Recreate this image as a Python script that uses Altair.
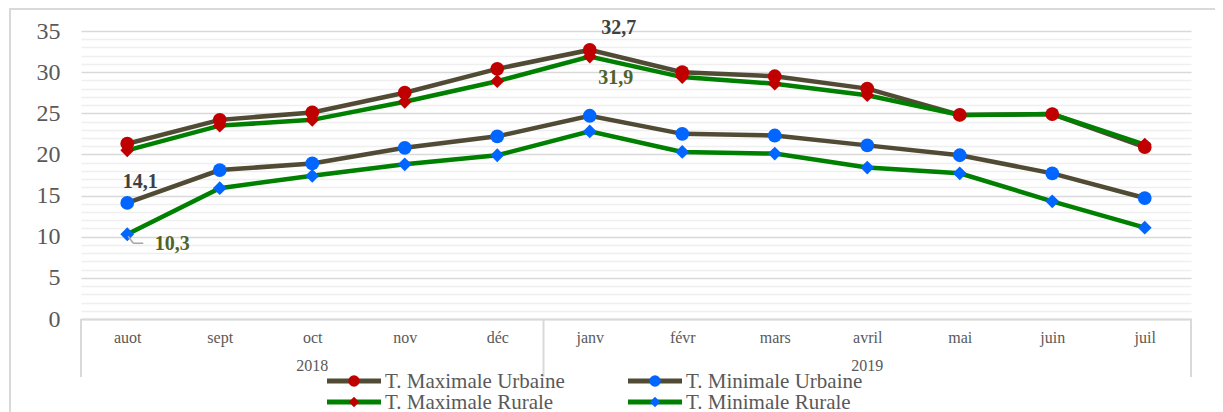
import json
import altair as alt
import pandas as pd

months = ["auot", "sept", "oct", "nov", "déc", "janv", "févr", "mars", "avril", "mai", "juin", "juil"]
years = ["2018"] * 5 + ["2019"] * 7
tmax_urb = [21.3, 24.2, 25.1, 27.5, 30.4, 32.7, 30.0, 29.5, 28.0, 24.8, 24.9, 20.9]
tmin_urb = [14.1, 18.1, 18.9, 20.8, 22.2, 24.7, 22.5, 22.3, 21.1, 19.9, 17.7, 14.7]
tmax_rur = [20.5, 23.5, 24.2, 26.4, 28.9, 31.9, 29.4, 28.6, 27.2, 24.8, 24.9, 21.2]
tmin_rur = [10.3, 15.9, 17.4, 18.8, 19.9, 22.8, 20.3, 20.1, 18.4, 17.7, 14.3, 11.1]

series_names = ["T. Maximale Urbaine", "T. Minimale Urbaine", "T. Maximale Rurale", "T. Minimale Rurale"]
series_values = [tmax_urb, tmin_urb, tmax_rur, tmin_rur]

BROWN = "#514A34"
GREEN = "#008000"
RED = "#C00000"
BLUE = "#0066FF"
line_colors = [BROWN, BROWN, GREEN, GREEN]
marker_colors = [RED, BLUE, RED, BLUE]
marker_shapes = ["circle", "circle", "diamond", "diamond"]
FONT = "Liberation Serif"
GREY_TXT = "#595959"

rows = []
for name, vals in zip(series_names, series_values):
    for i, v in enumerate(vals):
        rows.append({"idx": i, "month": months[i], "year": years[i], "series": name, "value": v})
df = pd.DataFrame(rows)

W, H = 1110, 288
xscale = alt.Scale(domain=[-0.5, len(months) - 0.5], nice=False, zero=False)
yscale = alt.Scale(domain=[0, 35], nice=False)

month_expr = json.dumps(months, ensure_ascii=False) + "[datum.value]"

x_axis = alt.Axis(values=list(range(len(months))), labelExpr=month_expr, grid=False, ticks=False,
                  tickSize=0, domain=True, domainColor="#D9D9D9", domainWidth=2,
                  labelFont=FONT, labelFontSize=16, labelColor=GREY_TXT, labelPadding=18,
                  labelBaseline="middle", title=None)
y_axis = alt.Axis(values=list(range(36)), labelExpr="datum.value % 5 === 0 ? datum.label : ''",
                  grid=True, gridWidth=1.6,
                  gridColor={"condition": {"test": "datum.value % 5 === 0", "value": "#D9D9D9"},
                             "value": "#EFEFEF"},
                  ticks=False, domain=False, labelFont=FONT, labelFontSize=24, labelColor=GREY_TXT,
                  labelPadding=21, title=None)

X = alt.X("idx:Q", scale=xscale, axis=x_axis)
Y = alt.Y("value:Q", scale=yscale, axis=y_axis)

base = alt.Chart(df)
color_scale = alt.Scale(domain=series_names, range=line_colors)
fill_scale = alt.Scale(domain=series_names, range=marker_colors)


def subset(names):
    return base.transform_filter(alt.FieldOneOfPredicate(field="series", oneOf=names))


lines_urb = subset(series_names[:2]).mark_line(strokeWidth=4.5).encode(
    x=X, y=Y, color=alt.Color("series:N", scale=color_scale, legend=None), detail="series:N")
lines_rur = subset(series_names[2:]).mark_line(strokeWidth=4.5).encode(
    x=X, y=Y, color=alt.Color("series:N", scale=color_scale, legend=None), detail="series:N")
pts_rur = subset(series_names[2:]).mark_point(shape="diamond", filled=True, size=190, opacity=1).encode(
    x=X, y=Y, fill=alt.Fill("series:N", scale=fill_scale, legend=None))
pts_urb = subset(series_names[:2]).mark_point(shape="circle", filled=True, size=190, opacity=1).encode(
    x=X, y=Y, fill=alt.Fill("series:N", scale=fill_scale, legend=None))

# category separators and year labels
bounds = [-0.5]
for i in range(1, len(years)):
    if years[i] != years[i - 1]:
        bounds.append(i - 0.5)
bounds.append(len(years) - 0.5)
sep_df = pd.DataFrame({"idx": bounds})
seps = alt.Chart(sep_df).mark_rule(color="#D9D9D9", strokeWidth=2).encode(
    x=X, y=alt.value(H), y2=alt.value(H + 58))

year_rows = []
for y in sorted(set(years)):
    ids = [i for i, yy in enumerate(years) if yy == y]
    year_rows.append({"year": y, "idx": sum(ids) / len(ids)})
year_df = pd.DataFrame(year_rows)
year_txt = alt.Chart(year_df).mark_text(font=FONT, fontSize=16, color=GREY_TXT, baseline="middle").encode(
    x=X, y=alt.value(H + 47), text="year:N")


# annotations
def annot(series, i, dx, dy, color):
    val = series_values[series_names.index(series)][i]
    d = pd.DataFrame({"idx": [i], "value": [val], "t": [f"{val:.1f}".replace(".", ",")]})
    return alt.Chart(d).mark_text(font=FONT, fontSize=20, fontWeight="bold", color=color, dx=dx, dy=dy,
                                  baseline="middle").encode(x=X, y=Y, text="t:N")


OLIVE = "#4F6228"
DARK = "#404040"
ann = [
    annot("T. Minimale Urbaine", 0, 13, -21, DARK),
    annot("T. Maximale Urbaine", 5, 29, -22, DARK),
    annot("T. Maximale Rurale", 5, 26, 21, OLIVE),
    annot("T. Minimale Rurale", 0, 45, 10, OLIVE),
]
lead_df = pd.DataFrame({"idx": [0], "value": [tmin_rur[0]]})
lead1 = alt.Chart(lead_df).mark_rule(color="#A6A6A6", strokeWidth=1.5, xOffset=1, yOffset=2, x2Offset=6,
                                     y2Offset=9).encode(x=X, y=Y, x2="idx:Q", y2="value:Q")
lead2 = alt.Chart(lead_df).mark_rule(color="#A6A6A6", strokeWidth=1.5, xOffset=6, yOffset=9, x2Offset=16,
                                     y2Offset=9).encode(x=X, y=Y, x2="idx:Q", y2="value:Q")

# custom legend
leg_layers = []
leg_pos = [(246, 350), (547, 350), (246, 371), (547, 371)]
for k, name in enumerate(series_names):
    lx, ly = leg_pos[k]
    d = pd.DataFrame({"series": [name]})
    c = alt.Chart(d)
    leg_layers.append(c.mark_rule(color=line_colors[k], strokeWidth=5).encode(
        x=alt.value(lx), x2=alt.value(lx + 54), y=alt.value(ly)))
    leg_layers.append(c.mark_point(shape=marker_shapes[k], filled=True, opacity=1, color=marker_colors[k],
                                   size=130 if marker_shapes[k] == "circle" else 110).encode(
        x=alt.value(lx + 27), y=alt.value(ly)))
    leg_layers.append(c.mark_text(font=FONT, fontSize=21, color=GREY_TXT, align="left", baseline="middle").encode(
        x=alt.value(lx + 58), y=alt.value(ly + 1), text="series:N"))

border = alt.Chart(pd.DataFrame({"series": [""]})).mark_rect(fill=None, stroke="#D9D9D9", strokeWidth=2).encode(
    x=alt.value(-71), x2=alt.value(1150), y=alt.value(-22), y2=alt.value(400))

chart = alt.layer(
    border, lines_urb, lines_rur, pts_rur, pts_urb, seps, year_txt, lead1, lead2, *ann, *leg_layers
).properties(
    width=W, height=H,
    autosize=alt.AutoSizeParams(type="none"),
    padding={"left": 73, "top": 23, "right": 24, "bottom": 93},
    background="white",
).configure_view(stroke=None)

chart.save("out.html", embed_options={"renderer": "svg", "actions": False})
